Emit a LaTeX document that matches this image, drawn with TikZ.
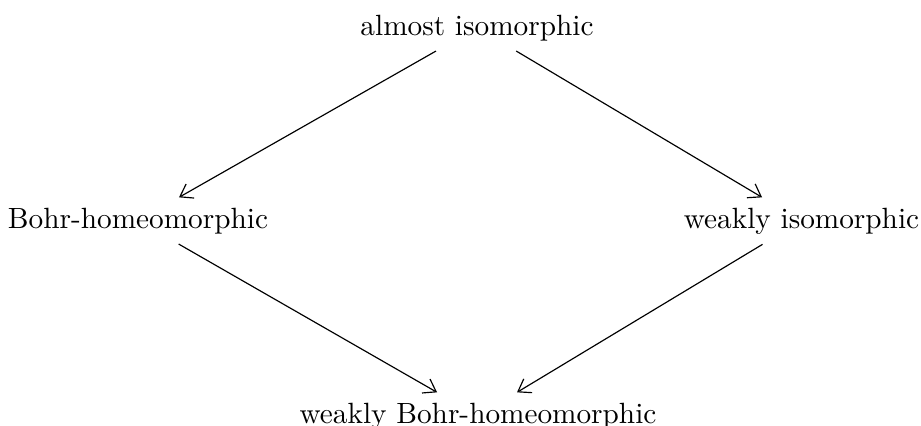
\documentclass[tikz,border=0pt]{standalone}
\usetikzlibrary{arrows.meta}
\begin{document}
\begin{tikzpicture}[x=0.3415pt,y=-0.3415pt,
  lbl/.style={anchor=base,inner sep=0.3333em},
  arr/.style={-{Straight Barb[length=4pt,width=5.5pt]},line width=0.4pt}]
\useasboundingbox (0,0) rectangle (921,425);
\node[lbl] (a) at (477,35) {almost isomorphic};
\node[lbl] (b) at (138,228) {Bohr-homeomorphic};
\node[lbl] (c) at (801.5,228) {weakly isomorphic};
\node[lbl] (d) at (478,423) {weakly Bohr-homeomorphic};
\draw[arr] (a) -- (b);
\draw[arr] (a) -- (c);
\draw[arr] (b) -- (d);
\draw[arr] (c) -- (d);
\end{tikzpicture}
\end{document}
